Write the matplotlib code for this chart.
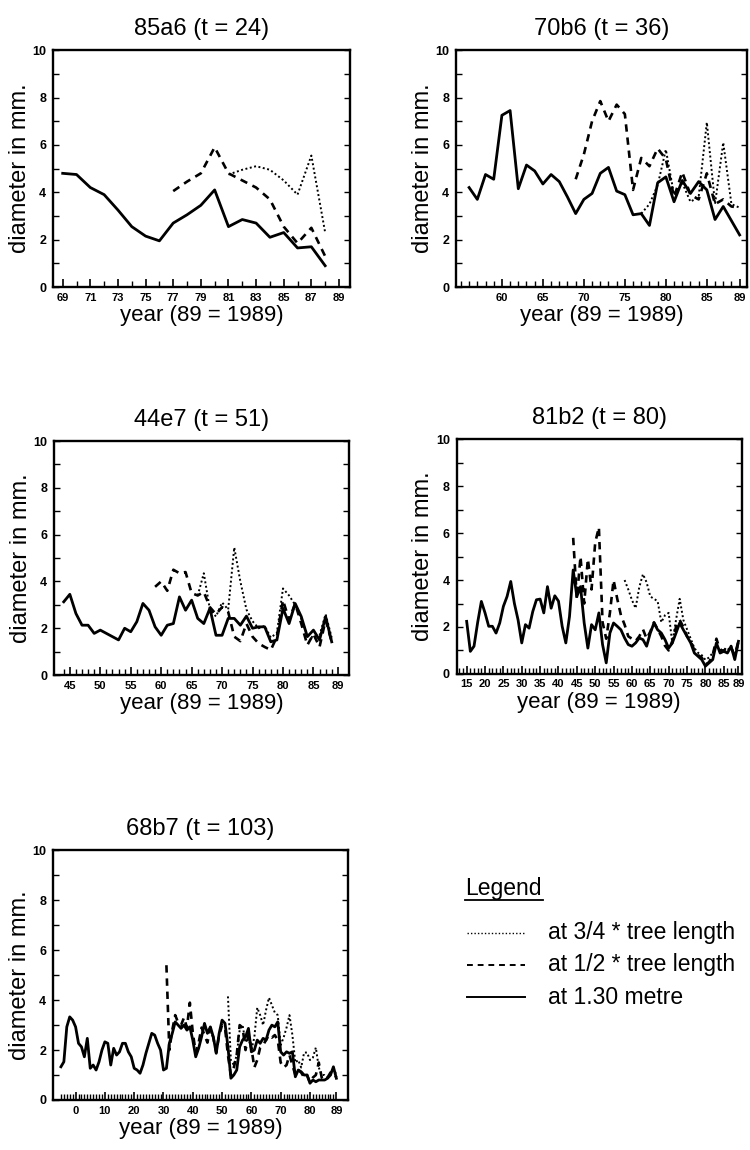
import numpy as np
import matplotlib
matplotlib.use('Agg')
import matplotlib.pyplot as plt
from matplotlib.lines import Line2D

plt.rcParams['font.family'] = ['Liberation Sans', 'DejaVu Sans']

# ----- DATA (diameter in mm per year, 89 = 1989) -------------
# tree 85a6 (t = 24)
a6_solid_from, a6_half_from, a6_three_from = 69, 77, 81
a6_solid = [4.8, 4.75, 4.2, 3.9, 3.25, 2.55, 2.15, 1.95, 2.7, 3.05, 3.45, 4.1,
            2.55, 2.85, 2.7, 2.1, 2.3, 1.65, 1.7, 0.9]
a6_half = [4.05, 4.45, 4.8, 5.9, 4.8, 4.5, 4.2, 3.7, 2.55, 1.85, 2.5, 1.3]
a6_three = [4.75, 4.95, 5.1, 4.95, 4.5, 3.9, 5.55, 2.3]

# tree 70b6 (t = 36)
b6_solid_from, b6_half_from, b6_three_from = 56, 69, 77
b6_solid = [4.2, 3.7, 4.75, 4.55, 7.25, 7.45, 4.15, 5.15, 4.9, 4.35, 4.75, 4.45,
            3.8, 3.1, 3.7, 3.95, 4.8, 5.05, 4.05, 3.9, 3.05, 3.1, 2.6, 4.4,
            4.65, 3.6, 4.5, 3.95, 4.45, 4.1, 2.85, 3.4, 2.8, 2.2]
b6_half = [4.55, 5.6, 7.0, 7.85, 7.0, 7.7, 7.3, 4.1, 5.45, 5.1, 5.85, 5.4,
           3.8, 4.85, 3.9, 3.7, 4.8, 3.5, 3.7, 3.4, 3.35]
b6_three = [3.1, 3.5, 4.3, 5.8, 3.9, 4.4, 3.6, 3.8, 6.95, 3.5, 6.1, 3.5, 3.35]

# tree 44e7 (t = 51)
e7_solid_from, e7_half_from, e7_three_from = 44, 59, 66
e7_solid = [3.13, 3.45, 2.63, 2.13, 2.13, 1.78, 1.92, 1.78, 1.64, 1.5, 2.0, 1.85,
            2.28, 3.06, 2.77, 2.06, 1.7, 2.13, 2.2, 3.34, 2.77, 3.2, 2.42, 2.2,
            2.85, 1.7, 1.7, 2.42, 2.42, 2.13, 2.52, 2.0, 2.06, 2.06, 1.42, 1.5,
            2.85, 2.2, 3.06, 2.5, 1.64, 1.92, 1.5, 2.5, 1.42]
e7_half = [3.77, 4.0, 3.6, 4.5, 4.35, 4.4, 3.5, 3.4, 3.55, 2.9, 2.6, 2.9, 2.7,
           1.64, 1.45, 2.2, 1.64, 1.35, 1.2, 1.07, 1.64, 3.2, 2.35, 3.06, 2.2,
           1.28, 1.75, 1.2, 2.35, 1.42]
e7_three = [3.4, 4.35, 2.8, 2.5, 3.1, 2.8, 5.45, 4.0, 2.8, 2.3, 2.0, 2.1, 1.6,
            1.8, 3.7, 3.4, 3.0, 2.4, 1.7, 1.6, 1.7, 2.6, 1.6]

# tree 81b2 (t = 80)
b2_solid_from, b2_half_from, b2_three_from = 15, 44, 58
b2_solid = [2.24, 0.96, 1.18, 2.2, 3.09, 2.6, 2.03, 2.03, 1.74, 2.17, 2.88, 3.3,
            3.94, 3.0, 2.3, 1.32, 2.1, 1.95, 2.66, 3.16, 3.19, 2.6, 3.72, 2.8,
            3.33, 3.1, 2.03, 1.32, 2.45, 4.43, 3.3, 3.72, 2.17, 1.1, 2.1, 1.88,
            2.6, 1.25, 0.47, 1.74, 2.17, 2.03, 1.88, 1.53, 1.25, 1.18, 1.32, 1.53,
            1.46, 1.18, 1.74, 2.17, 1.88, 1.74, 1.46, 1.1, 1.32, 1.74, 2.17, 1.88,
            1.6, 1.32, 0.89, 0.75, 0.61, 0.33, 0.47, 0.61, 1.32, 0.89, 0.96, 0.89,
            1.18, 0.61, 1.39]
b2_half = [5.8, 3.2, 5.0, 3.0, 4.9, 3.6, 5.6, 6.25, 2.2, 1.5, 2.6, 4.0, 3.2, 2.5,
           2.1, 1.6, 1.5, 1.4, 1.6, 1.9, 1.5, 1.8, 2.2, 1.9, 1.6, 1.2, 1.0, 1.4,
           2.0, 2.3, 2.0, 1.6, 1.4, 1.0, 0.8, 0.7, 0.4, 0.5, 0.8, 1.5, 1.0, 1.0,
           1.1, 1.1, 0.8, 1.4]
b2_three = [4.0, 3.6, 3.15, 2.8, 3.7, 4.25, 3.9, 3.3, 3.2, 3.1, 2.2, 2.5, 2.6,
            1.3, 2.3, 3.2, 2.3, 1.9, 1.5, 1.1, 0.9, 0.8, 0.6, 0.7, 0.9, 1.2, 1.0,
            1.1, 1.0, 1.2, 0.7, 1.3]

# tree 68b7 (t = 103)
b7_solid_from, b7_half_from, b7_three_from = -5, 31, 52
b7_solid = [1.33, 1.53, 2.93, 3.33, 3.2, 2.93, 2.27, 2.13, 1.73, 2.47, 1.27, 1.4,
            1.2, 1.53, 2.0, 2.33, 2.27, 1.4, 2.07, 1.8, 1.93, 2.27, 2.27, 1.93,
            1.73, 1.27, 1.2, 1.07, 1.4, 1.87, 2.27, 2.67, 2.6, 2.27, 2.0, 1.2,
            1.27, 2.27, 2.67, 3.13, 3.0, 2.87, 3.0, 2.8, 2.93, 2.4, 1.73, 2.07,
            2.53, 3.07, 2.67, 2.93, 2.53, 1.87, 2.67, 3.2, 3.07, 2.13, 0.87, 1.0,
            1.2, 2.13, 2.4, 2.53, 2.87, 1.93, 2.0, 2.4, 2.27, 2.47, 2.4, 2.8,
            3.0, 2.93, 3.13, 1.93, 1.8, 1.93, 1.87, 1.93, 0.93, 1.2, 1.13, 1.0,
            1.0, 0.67, 0.8, 0.73, 0.8, 0.8, 0.8, 0.87, 1.0, 1.33, 0.87]
b7_half = [5.4, 2.0, 2.8, 3.4, 3.1, 3.0, 3.3, 2.9, 3.9, 2.7, 1.9, 2.3, 2.9, 2.6,
           2.3, 2.9, 2.5, 1.9, 2.6, 3.0, 2.9, 1.8, 1.0, 1.3, 1.8, 3.0, 2.9, 2.0,
           2.6, 2.1, 1.3, 1.6, 2.1, 2.2, 2.4, 2.6, 2.5, 2.6, 2.4, 1.5, 1.3, 1.4,
           1.8, 1.4, 1.0, 1.2, 1.1, 0.9, 1.0, 0.7, 0.9, 1.0, 1.5, 0.9, 0.8, 0.9,
           1.1, 1.1, 0.9]
b7_three = [4.15, 1.6, 1.4, 1.8, 2.8, 3.0, 2.3, 2.5, 2.0, 2.5, 3.7, 3.4, 3.0,
            3.6, 4.1, 3.8, 3.5, 3.4, 2.2, 2.5, 2.9, 3.4, 2.6, 1.5, 1.6, 1.3, 1.9,
            1.9, 1.6, 1.7, 2.1, 1.3, 1.0, 1.0, 0.9, 1.0, 1.3, 1.0]

legend_labels = ['at 3/4 * tree length', 'at 1/2 * tree length', 'at 1.30 metre']

# ----- PLOTTING -------------
fig = plt.figure(figsize=(7.5, 11.5), dpi=100)
FS = 17


def draw_panel(rect, title, solid, half, three, xlim, labels, tick_from):
    ax = fig.add_axes(rect)
    s_from, s = solid
    h_from, h = half
    t_from, t = three
    ax.plot(np.arange(t_from, t_from + len(t)), t, color='black', lw=1.4, ls=(0, (1, 1.3)))
    ax.plot(np.arange(h_from, h_from + len(h)), h, color='black', lw=1.9, ls=(0, (2.8, 2.2)))
    ax.plot(np.arange(s_from, s_from + len(s)), s, color='black', lw=2.0)

    ax.set_xlim(*xlim)
    ax.set_ylim(0, 10)
    ax.set_xticks(labels)
    ax.set_xticklabels([str(v) for v in labels], fontweight='bold', fontsize=8)
    ax.set_xticks(np.arange(tick_from, 90), minor=True)
    ax.set_yticks([0, 2, 4, 6, 8, 10])
    ax.set_yticklabels(['0', '2', '4', '6', '8', '10'], fontweight='bold', fontsize=9)
    ax.set_yticks(np.arange(1, 10, 2), minor=True)
    ax.tick_params(axis='both', which='both', direction='in', color='black')
    ax.tick_params(axis='x', which='major', length=6, width=1.2, pad=4)
    ax.tick_params(axis='x', which='minor', length=4, width=1.0)
    ax.tick_params(axis='y', which='both', length=4, width=1.0, pad=5, right=True)
    for sp in ax.spines.values():
        sp.set_linewidth(1.7)
    ax.set_title(title, fontsize=FS, pad=11)
    ax.set_xlabel('year (89 = 1989)', fontsize=16, labelpad=2)
    ax.set_ylabel('diameter in mm.', fontsize=FS, labelpad=1)
    return ax


draw_panel([0.0707, 0.7504, 0.396, 0.206], '85a6 (t = 24)',
           (a6_solid_from, a6_solid), (a6_half_from, a6_half), (a6_three_from, a6_three),
           (68.3, 89.8), list(range(69, 90, 2)), 69)
draw_panel([0.608, 0.7504, 0.388, 0.206], '70b6 (t = 36)',
           (b6_solid_from, b6_solid), (b6_half_from, b6_half), (b6_three_from, b6_three),
           (54.4, 89.9), [60, 65, 70, 75, 80, 85, 89], 55)
draw_panel([0.072, 0.413, 0.393, 0.2035], '44e7 (t = 51)',
           (e7_solid_from, e7_solid), (e7_half_from, e7_half), (e7_three_from, e7_three),
           (42.4, 90.8), [45, 50, 55, 60, 65, 70, 75, 80, 85, 89], 44)
draw_panel([0.609, 0.414, 0.38, 0.204], '81b2 (t = 80)',
           (b2_solid_from, b2_solid), (b2_half_from, b2_half), (b2_three_from, b2_three),
           (12.3, 89.9), [15, 20, 25, 30, 35, 40, 45, 50, 55, 60, 65, 70, 75, 80, 85, 89], 13)
draw_panel([0.0707, 0.0435, 0.393, 0.217], '68b7 (t = 103)',
           (b7_solid_from, b7_solid), (b7_half_from, b7_half), (b7_three_from, b7_three),
           (-7.7, 92.9), [0, 10, 20, 30, 40, 50, 60, 70, 80, 89], -5)

# --- hand-drawn legend ---
W, H = 750.0, 1150.0
fig.text(465 / W, 1 - 888 / H, 'Legend', fontsize=16.5, ha='left', va='center')
fig.add_artist(Line2D([465 / W, 543 / W], [1 - 900 / H, 1 - 900 / H], color='black', lw=1.3))
styles = [dict(lw=1.0, ls=(0, (1, 1.5))), dict(lw=1.4, ls=(0, (3, 2.5))), dict(lw=1.4, ls='-')]
for i, (lab, st) in enumerate(zip(legend_labels, styles)):
    yy = 1 - (933 + 32 * i) / H
    fig.add_artist(Line2D([467 / W, 525 / W], [yy, yy], color='black', **st))
    fig.text(548 / W, yy, lab, fontsize=16.5, ha='left', va='center')

fig.savefig('out.png', dpi=100)
